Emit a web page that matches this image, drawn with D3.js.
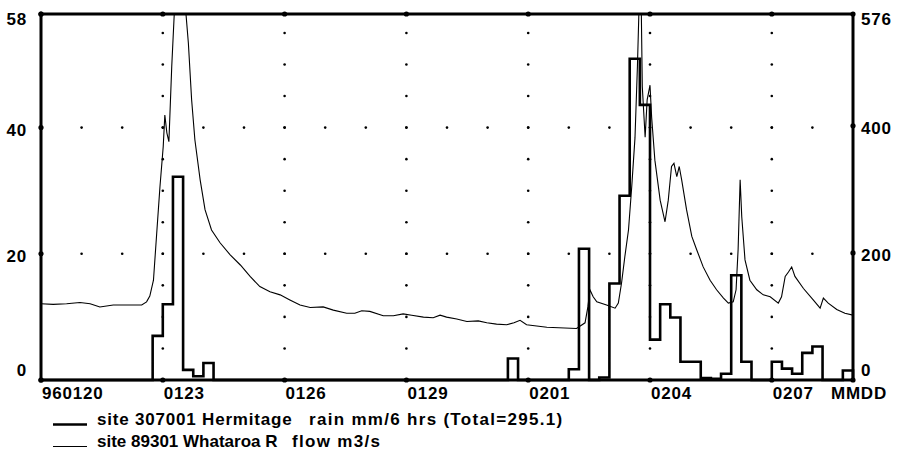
<!DOCTYPE html>
<html>
<head>
<meta charset="utf-8">
<script src="https://cdn.jsdelivr.net/npm/d3@7"></script>
<style>
  body { margin: 0; background: #fff; }
  svg text { font-family: "Liberation Sans", Arial, sans-serif; font-weight: bold; font-size: 17px; letter-spacing: 0.8px; fill: #000; }
</style>
</head>
<body>
<svg width="910" height="452"></svg>
<script>
// rain: 6 hour totals (mm), bins given by start day (days since 960120 00:00)
const rainDay = [2.75, 3.0, 3.25, 3.5, 3.75, 4.0, 11.5, 13.0, 13.25, 13.75, 14.0, 14.25, 14.5, 14.75, 15.0, 15.25, 15.5, 15.75, 16.0, 16.25, 16.5, 16.75, 17.0, 17.25, 18.0, 18.25, 18.5, 18.75, 19.0, 19.75]
const rainMm = [7.0, 12.0, 32.2, 1.6, 0.6, 2.7, 3.4, 1.7, 20.8, 0.4, 15.3, 29.2, 50.9, 43.6, 6.4, 12.0, 9.9, 2.9, 2.9, 0.3, 0.2, 1.0, 16.6, 2.9, 2.9, 1.8, 1.0, 4.3, 5.3, 1.5]

// flow m3/s (values above 576 run off the top of the chart)
const flowDay = [0, 0.30, 0.63, 0.96, 1.21, 1.45, 1.78, 2.48, 2.60, 2.68, 2.77, 2.85, 2.93, 3.01, 3.05, 3.10, 3.15, 3.22, 3.30, 3.54, 3.63, 3.71, 3.79, 3.92, 4.04, 4.20, 4.41, 4.66, 4.91, 5.15, 5.39, 5.64, 5.89, 6.13, 6.38, 6.63, 6.95, 7.20, 7.53, 7.73, 7.90, 8.10, 8.43, 8.68, 8.92, 9.13, 9.42, 9.66, 9.83, 9.99, 10.24, 10.49, 10.77, 10.98, 11.22, 11.47, 11.65, 11.80, 11.96, 12.46, 13.19, 13.40, 13.47, 13.52, 13.60, 13.69, 13.93, 14.14, 14.22, 14.30, 14.38, 14.47, 14.55, 14.63, 14.69, 14.74, 14.78, 14.81, 14.88, 14.93, 15.00, 15.04, 15.12, 15.25, 15.37, 15.45, 15.53, 15.59, 15.66, 15.72, 15.78, 15.90, 16.03, 16.15, 16.31, 16.48, 16.64, 16.81, 16.93, 17.05, 17.12, 17.17, 17.22, 17.26, 17.34, 17.46, 17.63, 17.79, 17.96, 18.16, 18.24, 18.33, 18.41, 18.49, 18.57, 18.78, 19.02, 19.19, 19.27, 19.39, 19.60, 19.80, 20.0]
const flowQ = [120, 119, 120, 122, 120, 115, 118, 118, 123, 132, 157, 231, 304, 367, 417, 389, 375, 493, 600, 600, 530, 441, 378, 315, 268, 236, 216, 197, 181, 163, 147, 139, 134, 126, 118, 114, 115, 110, 105, 105, 109, 108, 101, 101, 104, 102, 99, 98, 102, 99, 96, 92, 93, 90, 88, 87, 90, 94, 87, 83, 81, 90, 115, 142, 131, 123, 118, 113, 121, 153, 194, 236, 304, 381, 493, 610, 610, 462, 382, 441, 464, 414, 346, 283, 249, 283, 336, 341, 320, 336, 315, 268, 226, 205, 178, 157, 142, 129, 121, 123, 142, 205, 315, 257, 189, 157, 142, 134, 131, 121, 131, 163, 170, 178, 163, 144, 126, 113, 129, 121, 111, 105, 102]

const xTickDay = [0, 3, 6, 9, 12, 15, 18]
const xTickLabels = ['960120', '0123', '0126', '0129', '0201', '0204', '0207']
const leftTicks = [0, 20, 40, 58]
const rightTicks = [0, 200, 400, 576]
const legendSite = ['site 307001 Hermitage', 'site 89301 Whataroa R']
const legendWhat = ['rain mm/6 hrs (Total=295.1)', 'flow m3/s']

document.addEventListener('DOMContentLoaded', () => {
    const svg = d3.select('svg')
    const margin = {top: 14, right: 57, bottom: 72, left: 41}
    const width = +svg.attr('width')
    const height = +svg.attr('height')
    const x0 = margin.left, x1 = width - margin.right
    const y0 = height - margin.bottom, y1 = margin.top

    const x = d3.scaleLinear().domain([0, 20]).range([x0, x1])
    const yL = d3.scaleLinear().domain([0, 58]).range([y0, y1])
    const yR = d3.scaleLinear().domain([0, 576]).range([y0, y1])

    svg.append('defs').append('clipPath').attr('id', 'plot')
        .append('rect').attr('x', x0).attr('y', y1).attr('width', x1 - x0).attr('height', y0 - y1)

    // dotted grid
    const dots = []
    xTickDay.slice(1).forEach(d => {
        d3.range(5, 58, 5).forEach(v => dots.push([x(d), yL(v)]))
    })
    ;[20, 40].forEach(v => {
        d3.range(1, 20).forEach(d => dots.push([x(d), yL(v)]))
    })
    svg.append('g').selectAll('circle').data(dots)
        .enter().append('circle')
            .attr('cx', d => d[0]).attr('cy', d => d[1])
            .attr('r', 1.3).attr('fill', '#000')

    // rain steps
    const bins = d3.range(0, 80).map(i => {
        const k = rainDay.indexOf(i / 4)
        return [i / 4, k < 0 ? 0 : rainMm[k]]
    })
    bins.push([20, 0])
    svg.append('path')
        .attr('fill', 'none').attr('stroke', '#000').attr('stroke-width', 2.6)
        .attr('d', d3.line().curve(d3.curveStepAfter).x(d => x(d[0])).y(d => yL(d[1]))(bins))

    // flow line
    svg.append('path')
        .attr('clip-path', 'url(#plot)')
        .attr('fill', 'none').attr('stroke', '#000').attr('stroke-width', 1.1)
        .attr('d', d3.line().x((d, i) => x(d)).y((d, i) => yR(flowQ[i]))(flowDay))

    // frame
    svg.append('rect')
        .attr('x', x0).attr('y', y1).attr('width', x1 - x0).attr('height', y0 - y1)
        .attr('fill', 'none').attr('stroke', '#000').attr('stroke-width', 3)

    // knobs on the frame
    const knobs = []
    xTickDay.forEach(d => { knobs.push([x(d), y0]); knobs.push([x(d), y1]) })
    leftTicks.forEach(v => knobs.push([x0, yL(v)]))
    rightTicks.forEach(v => knobs.push([x1, yR(v)]))
    svg.append('g').selectAll('circle').data(knobs)
        .enter().append('circle')
            .attr('cx', d => d[0]).attr('cy', d => d[1])
            .attr('r', 2.6).attr('fill', '#000')

    const labelY = y => Math.min(Math.max(y + 8, y1 + 11), y0 - 4)

    svg.append('g').selectAll('text').data(leftTicks)
        .enter().append('text')
            .attr('x', 27).attr('y', d => labelY(yL(d)))
            .attr('text-anchor', 'end')
            .text(d => d)
    svg.append('g').selectAll('text').data(rightTicks)
        .enter().append('text')
            .attr('x', 861).attr('y', d => labelY(yR(d)))
            .text(d => d)
    svg.append('g').selectAll('text').data(xTickDay)
        .enter().append('text')
            .attr('x', d => x(d) + 1).attr('y', y0 + 19)
            .text((d, i) => xTickLabels[i])
    svg.append('text').attr('x', 887).attr('y', y0 + 19)
        .attr('text-anchor', 'end').text('MMDD')

    // legend
    const leg = svg.append('g')
    const whatX = [309, 292]
    const siteSpacing = ['0.8px', '0px']
    legendSite.forEach((t, i) => {
        const ly = 425 + i * 22
        leg.append('line')
            .attr('x1', 53).attr('x2', 87).attr('y1', ly - 0.5).attr('y2', ly - 0.5)
            .attr('stroke', '#000').attr('stroke-width', i == 0 ? 2.4 : 1.1)
        leg.append('text')
            .attr('x', 97).attr('y', ly)
            .style('letter-spacing', siteSpacing[i])
            .text(t)
        leg.append('text')
            .attr('x', whatX[i]).attr('y', ly)
            .style('letter-spacing', '1.3px')
            .text(legendWhat[i])
    })
})
</script>
</body>
</html>
